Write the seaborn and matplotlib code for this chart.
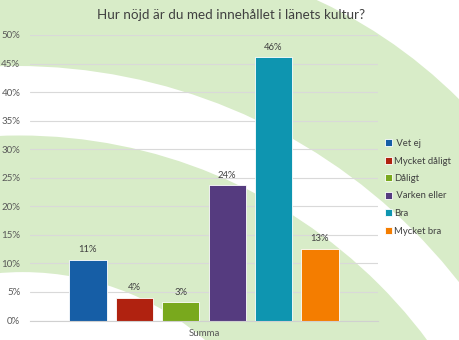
import matplotlib
matplotlib.use("Agg")
import matplotlib.pyplot as plt
from matplotlib.patches import Circle
import seaborn as sns
import pandas as pd

# ---- data ----
title = "Hur nöjd är du med innehållet i länets kultur?"
category = ["Summa"]
series = [" Vet ej", "Mycket dåligt", "Dåligt", " Varken eller", "Bra", "Mycket bra"]
values = [10.6, 4.0, 3.2, 23.7, 46.1, 12.6]
colors = ["#165ea6", "#b02210", "#79a91d", "#553b7f", "#0e95b0", "#f47d00"]
yticks = [0, 5, 10, 15, 20, 25, 30, 35, 40, 45, 50]

sns.set_theme(style="white")
plt.rcParams["font.family"] = ["Lato", "DejaVu Sans"]

fig = plt.figure(figsize=(4.6, 3.4), dpi=100)
fig.patch.set_facecolor("white")

# decorative background swooshes (pixel coordinates of the 460x340 canvas)
bg = fig.add_axes([0, 0, 1, 1], zorder=-5)
bg.set_xlim(0, 460)
bg.set_ylim(340, 0)
bg.axis("off")
green = "#d8ecc8"
bg.add_patch(Circle((108, 451), 497, color=green, lw=0))
bg.add_patch(Circle((16, 628), 562, color="white", lw=0))
bg.add_patch(Circle((19.5, 644), 508.5, color=green, lw=0))
bg.add_patch(Circle((22.75, 550.5), 278.4, color="white", lw=0))

df = pd.DataFrame({
    "cat": category * len(series),
    "series": series,
    "value": values,
})

ax = fig.add_axes([30 / 460, (340 - 320.5) / 340, 348 / 460, 285.5 / 340])
ax.patch.set_alpha(0)
sns.barplot(data=df, x="cat", y="value", hue="series", hue_order=series,
            palette=colors, width=0.8, gap=0.2, ax=ax, legend=True,
            edgecolor="#ffffff", linewidth=0.6, saturation=1)

ax.set_ylim(0, 50)
ax.set_xlim(-0.5, 0.5)
ax.set_yticks(yticks)
ax.set_yticklabels([f"{t}%" for t in yticks])
ax.tick_params(axis="y", length=0, pad=7, labelsize=7, labelcolor="#595959")
ax.tick_params(axis="x", length=0, pad=6, labelsize=7, labelcolor="#595959")
ax.set_xlabel("")
ax.set_ylabel("")
ax.yaxis.grid(True, color="#d9d9d9", lw=0.8)
ax.set_axisbelow(True)
for s in ["left", "right", "top"]:
    ax.spines[s].set_visible(False)
ax.spines["bottom"].set_color("#d0d0d0")
ax.spines["bottom"].set_linewidth(0.8)

for cont, v in zip(ax.containers, values):
    ax.bar_label(cont, labels=[f"{round(v)}%"], padding=4, fontsize=6.8,
                 color="#404040")

handles, labels = ax.get_legend_handles_labels()
ax.legend(handles, labels, loc="upper left", bbox_to_anchor=(385 / 460, 1 - 139 / 340),
          bbox_transform=fig.transFigure, frameon=False, fontsize=6.8,
          handlelength=0.7, handleheight=0.7, handletextpad=0.3,
          labelspacing=0.9, labelcolor="#404040", borderpad=0, borderaxespad=0)

fig.text(231 / 460, 1 - 15 / 340, title, ha="center", va="center",
         fontsize=9.7, color="#404040")

fig.savefig("out.png", dpi=100)
